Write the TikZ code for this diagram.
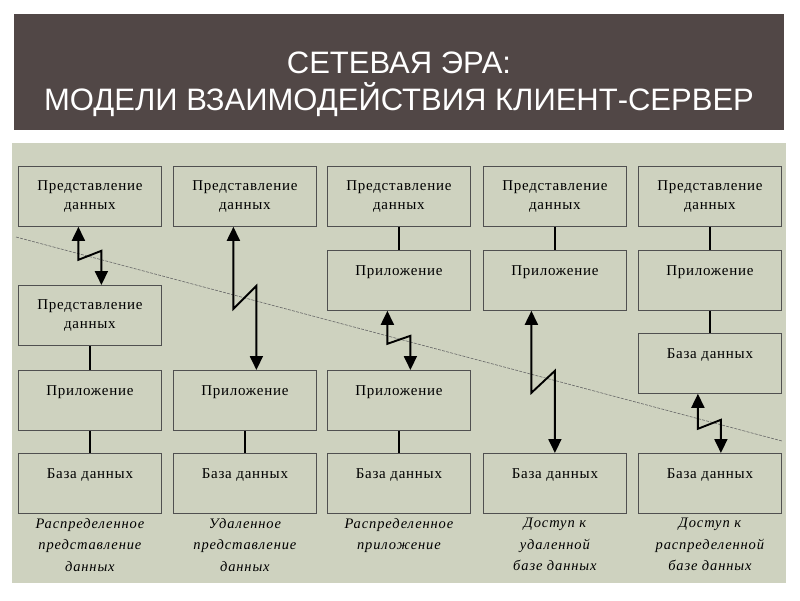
\documentclass[tikz,border=0pt]{standalone}
\usepackage{fontspec}
\usetikzlibrary{arrows.meta}
\setmainfont{Liberation Serif}
\newfontfamily\titlefont{Liberation Sans}
\newfontfamily\boxfont[LetterSpace=5]{Liberation Serif}
\newfontfamily\notefont[LetterSpace=6]{Liberation Serif}

\definecolor{bannerbg}{RGB}{81,71,70}
\definecolor{panelbg}{RGB}{206,210,191}
\definecolor{edgegray}{RGB}{80,80,80}

\begin{document}
\begin{tikzpicture}[x=1pt,y=-1pt,
    tier/.style={draw=edgegray, fill=panelbg, line width=0.8pt,
      minimum width=143pt, minimum height=60pt, inner sep=0pt,
      anchor=north west, align=center,
      font=\boxfont\fontsize{15}{19}\selectfont},
    link/.style={line width=1.2pt},
    biglink/.style={line width=2.4pt},
    zap/.style={line width=1.9pt,
      {Triangle[width=13pt,length=14pt]}-{Triangle[width=13pt,length=14pt]}},
    cut/.style={draw=black!60, line width=0.6pt, dash pattern=on 3pt off 1.2pt},
    note/.style={anchor=north, align=center, inner sep=4pt,
      font=\notefont\itshape\fontsize{14.5}{21.5}\selectfont}]
  \useasboundingbox (0,0) rectangle (800,600);
  \fill[white] (0,0) rectangle (800,600);
  % title
  \fill[bannerbg] (14,14) rectangle (784,130);
  \node[white, align=center, font=\titlefont\fontsize{31}{37}\selectfont]
    (title) at (399,84) {СЕТЕВАЯ ЭРА:\\МОДЕЛИ ВЗАИМОДЕЙСТВИЯ КЛИЕНТ-СЕРВЕР};
  \fill[panelbg] (12,143) rectangle (786,583);
  % network cut
  \coordinate (cut1) at (16,237);
  \coordinate (cut2) at (782,441);
  \draw[cut] (cut1) -- (cut2);
  % boxes
  \foreach \c/\x in {1/18,2/173,3/327,4/483,5/638} {
    \node[tier] (pd\c) at (\x,166) {Представление\\данных};
    \node[tier] (db\c) at (\x,453) {База данных\\\mbox{}};
  }
  \node[tier] (pdlow) at (18,285) {Представление\\данных};
  \foreach \c/\x in {1/18,2/173,3/327}
    \node[tier] (app\c) at (\x,370) {Приложение\\\mbox{}};
  \node[tier] (app3top) at (327,250) {Приложение\\\mbox{}};
  \node[tier] (app4) at (483,250) {Приложение\\\mbox{}};
  \node[tier] (app5) at (638,250) {Приложение\\\mbox{}};
  \node[tier] (dbmid) at (638,333) {База данных\\\mbox{}};
  % local links
  \draw[link] (pdlow) -- (app1);
  \draw[link] (app1) -- (db1);
  \draw[link] (app2) -- (db2);
  \draw[biglink] (pd3) -- (app3top);
  \draw[biglink] (app3) -- (db3);
  \draw[link] (pd4) -- (app4);
  \draw[biglink] (pd5) -- (app5);
  \draw[biglink] (app5) -- (dbmid);
  % network links
  \draw[zap] ([xshift=-11.5pt]pd1.south) -- ++(0,33) -- ++(23,-9)
    -- ([xshift=11.5pt]pdlow.north);
  \draw[zap] ([xshift=-11.5pt]pd2.south) -- ++(0,82) -- ++(23,-23)
    -- ([xshift=11.5pt]app2.north);
  \draw[zap] ([xshift=-11.5pt]app3top.south) -- ++(0,33) -- ++(23,-8)
    -- ([xshift=11.5pt]app3.north);
  \draw[zap] ([xshift=-23.5pt]app4.south) -- ++(0,82) -- ++(23.5,-22)
    -- (db4.north);
  \draw[zap] ([xshift=-12pt]dbmid.south) -- ++(0,35) -- ++(23,-9)
    -- ([xshift=11pt]db5.north);
  % captions
  \node[note] (note1) at (db1.south) {Распределенное\\представление\\данных};
  \node[note] (note2) at (db2.south) {Удаленное\\представление\\данных};
  \node[note] (note3) at (db3.south) {Распределенное\\приложение};
  \node[note] (note4) at (db4.south) {Доступ к\\удаленной\\базе данных};
  \node[note] (note5) at (db5.south) {Доступ к\\распределенной\\базе данных};
\end{tikzpicture}
\end{document}
